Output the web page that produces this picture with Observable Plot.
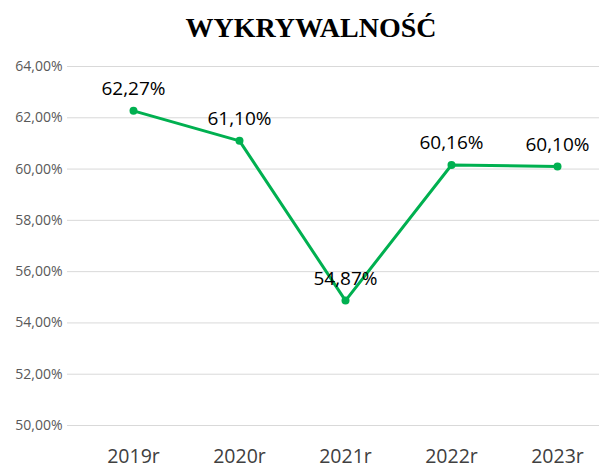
<!DOCTYPE html>
<html>
<head>
<meta charset="utf-8">
<script src="https://cdn.jsdelivr.net/npm/d3@7"></script>
<script src="https://cdn.jsdelivr.net/npm/@observablehq/plot@0.6"></script>
<style>
  html, body { margin: 0; padding: 0; background: #fff; }
  #title { height: 50px; line-height: 56px; text-align: center; font-family: "Liberation Serif", "Times New Roman", serif; font-weight: bold; font-size: 28px; color: #000; padding-left: 22px; box-sizing: border-box; }
</style>
</head>
<body>
<div id="title">WYKRYWALNOŚĆ</div>
<div id="chart"></div>
<script>
const years = ["2019r", "2020r", "2021r", "2022r", "2023r"];
const values = [62.27, 61.10, 54.87, 60.16, 60.10];
const yTicks = [50, 52, 54, 56, 58, 60, 62, 64];

const data = years.map((y, i) => ({year: y, value: values[i]}));
const fmt = v => v.toFixed(2).replace(".", ",") + "%";

const chart = Plot.plot({
  width: 600,
  height: 418,
  marginTop: 16,
  marginBottom: 43,
  marginLeft: 67,
  marginRight: 1,
  style: {fontFamily: "'Open Sans', sans-serif", background: "#fff"},
  x: {type: "point", domain: years, padding: 0, insetLeft: 64, insetRight: 41},
  y: {domain: [50, 64]},
  marks: [
    Plot.ruleY(yTicks, {stroke: "#d9d9d9", strokeWidth: 1}),
    Plot.axisY({ticks: yTicks, tickFormat: fmt, tickSize: 0, tickPadding: 5, fontSize: 14, fill: "#595959", label: null}),
    Plot.axisX({tickSize: 0, tickPadding: 24, fontSize: 19.5, fill: "#404040", label: null}),
    Plot.line(data, {x: "year", y: "value", stroke: "#00B050", strokeWidth: 3}),
    Plot.dot(data, {x: "year", y: "value", r: 4, fill: "#00B050"}),
    Plot.text(data, {x: "year", y: "value", text: d => fmt(d.value), dy: -22, fontSize: 19, fill: "#000"})
  ]
});
document.getElementById("chart").appendChild(chart);
</script>
</body>
</html>
